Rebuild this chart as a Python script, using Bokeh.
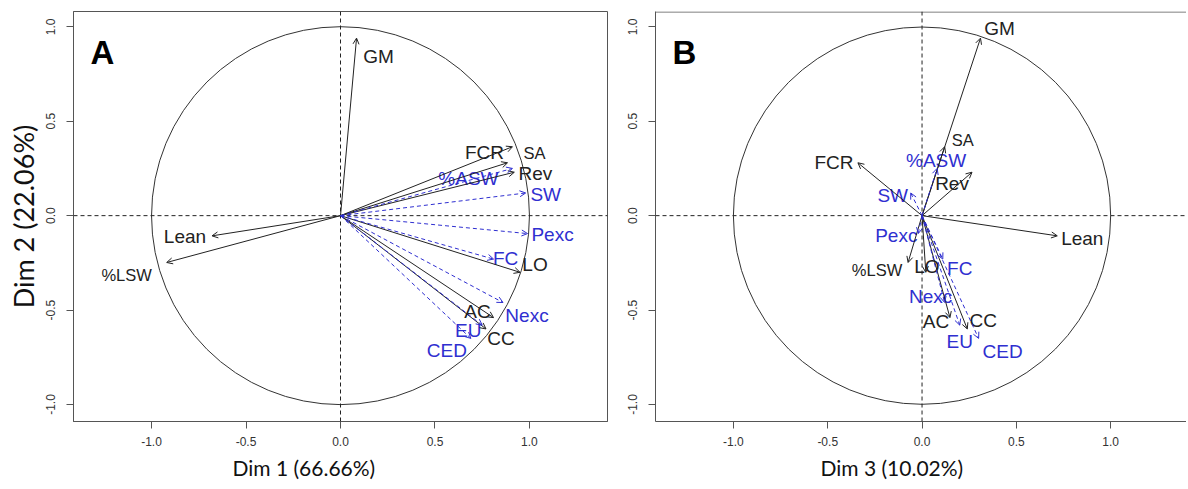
import math
from bokeh.plotting import figure
from bokeh.models import (ColumnDataSource, Arrow, OpenHead, Span, Label, Range1d,
                          FixedTicker, Title)
from bokeh.layouts import row
from bokeh.embed import file_html
from bokeh.resources import INLINE
from bokeh.core.properties import value

# ---------------- data (variable coordinates on the PCA dimensions) ----------------
variables = ["GM", "SA", "FCR", "Rev", "%ASW", "SW", "Pexc", "Lean", "%LSW",
             "LO", "FC", "Nexc", "AC", "CC", "EU", "CED"]
supplementary = [False, False, False, False, True, True, True, False, False,
                 False, True, True, False, False, True, True]
dim1 = [0.085, 0.91, 0.884, 0.92, 0.91, 0.98, 0.99, -0.68, -0.92,
        0.95, 0.81, 0.86, 0.81, 0.77, 0.75, 0.69]
dim2 = [0.94, 0.365, 0.28, 0.23, 0.25, 0.12, -0.095, -0.107, -0.248,
        -0.30, -0.23, -0.46, -0.54, -0.60, -0.58, -0.65]
dim3 = [0.31, 0.12, -0.34, 0.265, 0.08, -0.06, -0.02, 0.717, -0.074,
        0.02, 0.11, 0.12, 0.148, 0.24, 0.20, 0.30]

axis_titles = {"A": ("Dim 1 (66.66%)", "Dim 2 (22.06%)"),
               "B": ("Dim 3 (10.02%)", None)}
ticks = [-1.0, -0.5, 0.0, 0.5, 1.0]
tick_labels = {-1.0: "-1.0", -0.5: "-0.5", 0.0: "0.0", 0.5: "0.5", 1.0: "1.0"}

# ---------------- label placement (screen pixel offsets, styling only) ----------------
offsets_A = {"GM": (22, 18), "SA": (22, 6), "FCR": (-23, -10), "Rev": (21, 1),
             "%ASW": (-44, 10), "SW": (20, 2), "Pexc": (25, 1), "Lean": (-27, 1),
             "%LSW": (-40, 13), "LO": (15, -8), "FC": (12, -1), "Nexc": (24, 13),
             "AC": (-16, -6), "CC": (15, 10), "EU": (-14, 5), "CED": (-24, 12)}
offsets_B = {"GM": (19, -10), "SA": (18, -7), "FCR": (-24, 0), "Rev": (-20, 11),
             "%ASW": (-1, -8), "SW": (-18, 3), "Pexc": (-22, 2), "Lean": (25, 3),
             "%LSW": (-31, 8), "LO": (1, -6), "FC": (17, 9), "Nexc": (-14, -6),
             "AC": (-14, 4), "CC": (16, -8), "EU": (0, 16), "CED": (24, 13)}
small_labels = {"SA", "%LSW"}

BLACK = "#222222"
BLUE = "#2f2fd0"
GRAY = "#555555"
Y0, Y1 = -1.090, 1.081


def make_panel(xs, ys, offsets, letter, width, border_left, border_right, x0, x1,
               title_offset, boxed):
    p = figure(width=width, height=487, x_range=Range1d(x0, x1), y_range=Range1d(Y0, Y1),
               output_backend="svg", toolbar_location=None,
               min_border_left=border_left, min_border_right=border_right,
               min_border_top=11, min_border_bottom=66)
    p.grid.visible = False
    p.background_fill_color = "white"
    p.border_fill_color = "white"
    if boxed:
        p.outline_line_color = GRAY
    else:
        p.outline_line_color = None
        p.add_layout(Span(location=Y1 - 0.5 / 189, dimension="width",
                          line_color=GRAY, line_width=1))
    for ax in (p.xaxis[0], p.yaxis[0]):
        ax.ticker = FixedTicker(ticks=ticks)
        ax.major_label_overrides = tick_labels
        ax.minor_tick_line_color = None
        ax.major_tick_in = 0
        ax.major_tick_out = 7
        ax.major_tick_line_color = GRAY
        ax.axis_line_color = GRAY
        ax.major_label_text_font = "Liberation Sans"
        ax.major_label_text_font_size = "12px"
        ax.major_label_text_color = "#333333"
    p.xaxis.major_label_standoff = 8
    p.yaxis.major_label_standoff = 11
    p.yaxis.major_label_orientation = "vertical"

    xlab, ylab = axis_titles[letter]
    if ylab:
        p.yaxis.axis_label = ylab
        p.yaxis.axis_label_text_font = "Lato"
        p.yaxis.axis_label_text_font_size = "27px"
        p.yaxis.axis_label_text_font_style = "normal"
        p.yaxis.axis_label_text_color = "#111111"
        p.yaxis.axis_label_standoff = 4
    p.add_layout(Title(text=xlab, align="left", offset=title_offset,
                       text_font="Lato", text_font_size="21px",
                       text_font_style="normal", text_color="#111111",
                       standoff=8), "below")

    # reference lines and correlation circle
    p.add_layout(Span(location=0, dimension="width", line_color=BLACK,
                      line_dash="4 3", line_width=1))
    p.add_layout(Span(location=0, dimension="height", line_color=BLACK,
                      line_dash="4 3", line_width=1))
    p.circle(x=[0], y=[0], radius=1, fill_color=None, line_color="#333333",
             line_width=1)

    # arrows
    for supp, color, dash in ((False, BLACK, "solid"), (True, BLUE, "4 3")):
        idx = [i for i, s in enumerate(supplementary) if s == supp]
        src = ColumnDataSource(dict(
            x0=[0.0] * len(idx), y0=[0.0] * len(idx),
            x1=[xs[i] for i in idx], y1=[ys[i] for i in idx]))
        p.add_layout(Arrow(source=src, x_start="x0", y_start="y0", x_end="x1",
                           y_end="y1", line_color=color, line_width=1,
                           line_dash=dash,
                           end=OpenHead(size=6, line_color=color, line_width=1)))

    # labels
    lab = ColumnDataSource(dict(
        x=xs, y=ys, text=variables,
        dx=[offsets[v][0] for v in variables],
        dy=[offsets[v][1] for v in variables],
        color=[BLUE if s else BLACK for s in supplementary],
        size=["16.5px" if v in small_labels else "19px" for v in variables]))
    p.text(x="x", y="y", text="text", x_offset="dx", y_offset="dy",
           text_color="color", text_font_size="size",
           text_font=value("Liberation Sans"), text_align="center",
           text_baseline="middle", source=lab)

    # panel letter
    p.add_layout(Label(x=x0 + 17 / 189, y=Y1 - 41 / 189, text=letter,
                       text_font="Liberation Sans", text_font_size="33px",
                       text_font_style="bold", text_color="black",
                       text_baseline="alphabetic"))
    return p


pA = make_panel(dim1, dim2, offsets_A, "A", width=617, border_left=73,
                border_right=10, x0=-1.413, x1=1.413, title_offset=159, boxed=True)
pB = make_panel(dim3, dim2, offsets_B, "B", width=569, border_left=38,
                border_right=0, x0=-1.413, x1=1.402, title_offset=165, boxed=False)

layout = row(pA, pB, spacing=0)
open("out.html", "w").write(file_html(layout, INLINE))
